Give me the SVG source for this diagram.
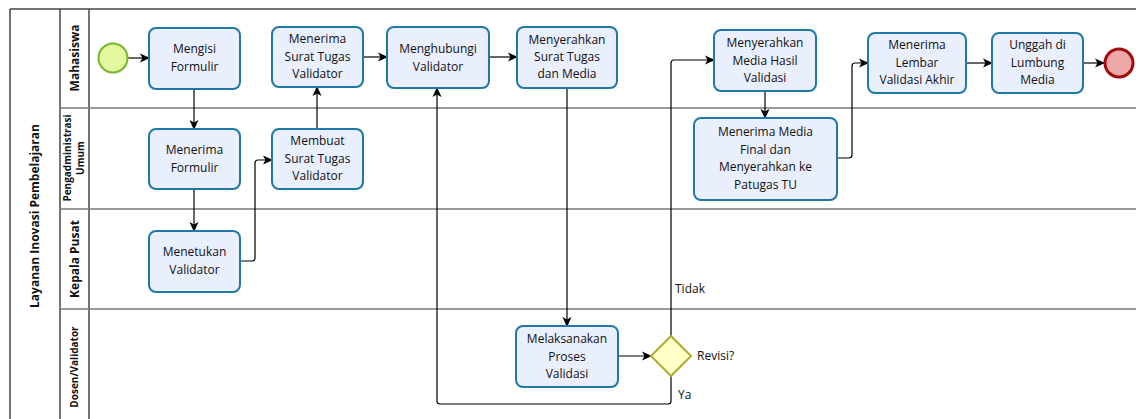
<svg xmlns="http://www.w3.org/2000/svg" width="1136" height="419" viewBox="0 0 1136 419">
<defs>
<marker id="arr" markerWidth="10" markerHeight="10" refX="9" refY="5" orient="auto" markerUnits="userSpaceOnUse">
<path d="M0,0.5 L10,5 L0,9.5 L2.5,5 Z" fill="#000"/>
</marker>
<style>
.task{fill:#e9effd;stroke:#1f78a8;stroke-width:2}
.t{font-family:"Open Sans","Liberation Sans",sans-serif;font-size:12px;fill:#111;text-anchor:middle}
.lbl{font-family:"Open Sans","Liberation Sans",sans-serif;font-size:12px;fill:#111}
.lane{font-family:"Open Sans","Liberation Sans",sans-serif;font-weight:bold;fill:#111;text-anchor:middle}
.c{fill:none;stroke:#000;stroke-width:1.2;marker-end:url(#arr)}
.c2{fill:none;stroke:#000;stroke-width:1.2}
.sep{stroke:#7a7a7a;stroke-width:1.5}
.pb{stroke:#444;stroke-width:1.5;fill:none}
</style>
</defs>
<rect width="1136" height="419" fill="#fff"/>
<g id="pool">
<line class="pb" x1="10" y1="9" x2="1136" y2="9"/>
<line class="pb" x1="10" y1="9" x2="10" y2="419"/>
<line class="pb" x1="60" y1="9" x2="60" y2="419"/>
<line class="pb" x1="89" y1="9" x2="89" y2="419"/>
<line class="sep" x1="60" y1="108" x2="1136" y2="108"/>
<line class="sep" x1="60" y1="209" x2="1136" y2="209"/>
<line class="sep" x1="60" y1="309" x2="1136" y2="309"/>
<text class="lane" font-size="12" transform="translate(39,216) rotate(-90)">Layanan Inovasi Pembelajaran</text>
<text class="lane" font-size="12" transform="translate(79,58) rotate(-90)">Mahasiswa</text>
<text class="lane" font-size="10" transform="translate(71,158) rotate(-90)">Pengadministrasi</text>
<text class="lane" font-size="10" transform="translate(84,158) rotate(-90)">Umum</text>
<text class="lane" font-size="12" transform="translate(79,259) rotate(-90)">Kepala Pusat</text>
<text class="lane" font-size="10" transform="translate(78,367) rotate(-90)">Dosen/Validator</text>
</g>
<g id="connectors">
<path class="c" d="M128,58 H149"/>
<path class="c" d="M194,89 V129"/>
<path class="c" d="M194,189 V231"/>
<path class="c" d="M240,261 H252 Q255,261 255,258 V163 Q255,160 258,160 H272"/>
<path class="c" d="M317,129 V87"/>
<path class="c" d="M363,57 H387"/>
<path class="c" d="M489,57 H517"/>
<path class="c" d="M567,88 V326"/>
<path class="c" d="M618,356 H651"/>
<path class="c" d="M671,336 V63 Q671,60 674,60 H714"/>
<path class="c" d="M671,376 V401 Q671,404 668,404 H440 Q437,404 437,401 V88"/>
<path class="c" d="M765,91 V118"/>
<path class="c" d="M837,158 H849 Q852,158 852,155 V66 Q852,63 855,63 H868"/>
<path class="c" d="M966,63 H992"/>
<path class="c" d="M1083,63 H1104"/>
<text class="lbl" x="675" y="293">Tidak</text>
<text class="lbl" x="678" y="399">Ya</text>
</g>
<g id="start"><circle cx="113" cy="58" r="14.5" fill="#e4f8a0" stroke="#74b62a" stroke-width="2"/></g>
<g id="mengisi"><rect class="task" x="149" y="28" width="91" height="61" rx="7"/><text class="t" x="194.5" y="53">Mengisi<tspan x="194.5" dy="18">Formulir</tspan></text></g>
<g id="menerima-surat"><rect class="task" x="272" y="27" width="91" height="60" rx="7"/><text class="t" x="317.5" y="43">Menerima<tspan x="317.5" dy="17.5">Surat Tugas</tspan><tspan x="317.5" dy="17.5">Validator</tspan></text></g>
<g id="menerima-formulir"><rect class="task" x="149" y="129" width="91" height="60" rx="7"/><text class="t" x="194.5" y="154">Menerima<tspan x="194.5" dy="18">Formulir</tspan></text></g>
<g id="membuat"><rect class="task" x="272" y="129" width="91" height="60" rx="7"/><text class="t" x="317.5" y="145">Membuat<tspan x="317.5" dy="17.5">Surat Tugas</tspan><tspan x="317.5" dy="17.5">Validator</tspan></text></g>
<g id="menetukan"><rect class="task" x="149" y="231" width="91" height="61" rx="7"/><text class="t" x="194.5" y="256">Menetukan<tspan x="194.5" dy="18">Validator</tspan></text></g>
<g id="menghubungi"><rect class="task" x="387" y="27" width="102" height="61" rx="7"/><text class="t" x="438" y="53">Menghubungi<tspan x="438" dy="18">Validator</tspan></text></g>
<g id="menyerahkan-surat"><rect class="task" x="517" y="27" width="100" height="61" rx="7"/><text class="t" x="567" y="44">Menyerahkan<tspan x="567" dy="17">Surat Tugas</tspan><tspan x="567" dy="17">dan Media</tspan></text></g>
<g id="melaksanakan"><rect class="task" x="516" y="326" width="102" height="61" rx="7"/><text class="t" x="567" y="343">Melaksanakan<tspan x="567" dy="17.5">Proses</tspan><tspan x="567" dy="17.5">Validasi</tspan></text></g>
<g id="revisi"><polygon points="651,356 671,336 691,356 671,376" fill="#ffffc6" stroke="#acac30" stroke-width="2"/><text class="lbl" x="697" y="360">Revisi?</text></g>
<g id="menyerahkan-media"><rect class="task" x="714" y="30" width="102" height="61" rx="7"/><text class="t" x="765" y="47">Menyerahkan<tspan x="765" dy="17.5">Media Hasil</tspan><tspan x="765" dy="17.5">Validasi</tspan></text></g>
<g id="menerima-media"><rect class="task" x="694" y="118" width="143" height="82" rx="7"/><text class="t" x="765.5" y="136">Menerima Media<tspan x="765.5" dy="17.5">Final dan</tspan><tspan x="765.5" dy="17.5">Menyerahkan ke</tspan><tspan x="765.5" dy="17.5">Patugas TU</tspan></text></g>
<g id="menerima-lembar"><rect class="task" x="868" y="33" width="98" height="60" rx="7"/><text class="t" x="917" y="49">Menerima<tspan x="917" dy="17.5">Lembar</tspan><tspan x="917" dy="17.5">Validasi Akhir</tspan></text></g>
<g id="unggah"><rect class="task" x="992" y="33" width="91" height="60" rx="7"/><text class="t" x="1037.5" y="49">Unggah di<tspan x="1037.5" dy="17.5">Lumbung</tspan><tspan x="1037.5" dy="17.5">Media</tspan></text></g>
<g id="end"><circle cx="1119" cy="63" r="14" fill="#eea8a8" stroke="#a00d0d" stroke-width="3"/></g>
</svg>
